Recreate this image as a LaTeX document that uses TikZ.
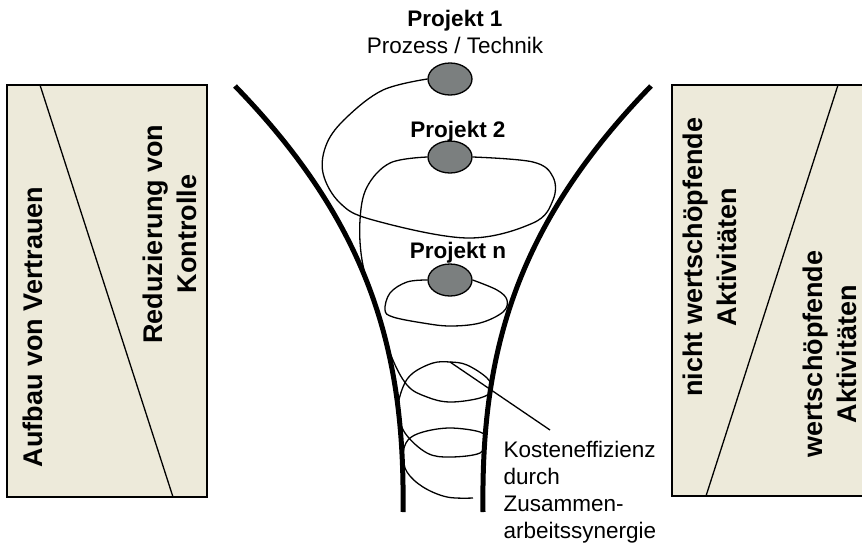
\documentclass[tikz,border=0pt]{standalone}
\usepackage{fontspec}
\setmainfont{Liberation Sans}
\usetikzlibrary{shapes.geometric}
\definecolor{paper}{RGB}{237,234,218}
\definecolor{stone}{RGB}{123,127,127}

\begin{document}
\begin{tikzpicture}[x=1pt, y=-1pt,
        panel/.style = {draw, line width=1.4pt, fill=paper},
        proj/.style = {draw, ellipse, line width=1.3pt, fill=stone, minimum width=44pt, minimum height=32pt, inner sep=0pt},
        wall/.style = {line width=5pt},
        spiral/.style = {line width=1.3pt},
        title/.style = {font=\fontsize{22.5}{27}\selectfont\bfseries, anchor=base},
        note/.style = {font=\fontsize{22.5}{27}\selectfont, anchor=base},
        side/.style = {font=\fontsize{27}{34}\selectfont\bfseries, rotate=90, align=center, anchor=base}]
        \useasboundingbox (0,0) rectangle (862,547);

        % left panel
        \draw[panel] (7,85) rectangle (207,497);
        \draw[spiral] (40,85) -- (173,497);
        \node[side] (trust) at (42,327) {Aufbau von Vertrauen};
        \node[side] (control) at (196,234) {Reduzierung von\\Kontrolle};

        % right panel
        \draw[panel] (672,85) rectangle (866,496);
        \draw[spiral] (838,85) -- (706,496);
        \node[side] (waste) at (736,257) {nicht wertschöpfende\\Aktivitäten};
        \node[side] (value) at (856,354) {wertschöpfende\\Aktivitäten};

        % funnel
        \draw[wall] (235,86) .. controls (375,230) and (405,360) .. (403,512);
        \draw[wall] (651,86) .. controls (511,230) and (481,360) .. (483,512);

        % projects
        \node[proj] (P1) at (450,79) {};
        \node[proj] (P2) at (450,157) {};
        \node[proj] (Pn) at (450,280) {};
        \node[title] (t1) at (455,26) {Projekt 1};
        \node[note] (t1b) at (455,53) {Prozess / Technik};
        \node[title] (t2) at (458,137) {Projekt 2};
        \node[title] (tn) at (458,258) {Projekt n};

        \draw[spiral] plot[smooth, tension=0.6] coordinates {(P1.west) (383,90) (347,117) (327,143) (323,173) (340,203) (373,220) (467,238) (533,223) (553,200) (553,177) (533,162) (P2.east)};
        \draw[spiral] plot[smooth, tension=0.6] coordinates {(Pn.west) (407,282) (390,293) (385,310) (393,317) (423,323) (450,326) (480,323) (503,312) (507,300) (497,290) (Pn.east)};
        \draw[spiral] plot[smooth, tension=0.6] coordinates {(P2.west) (390,163) (367,187) (360,220) (362,260) (373,300) (390,353) (407,385) (427,397) (450,402) (480,398) (492,390) (487,378) (467,365) (450,362) (433,363) (413,373) (403,387) (398,410) (405,433) (427,453) (450,457) (480,453) (486,440) (480,432) (450,428) (423,432) (408,440) (403,455) (407,472) (423,487) (447,497) (473,498)};

        % leader to the note
        \coordinate (loop) at (450,362);
        \coordinate (tip) at (550,430);
        \node[note, anchor=base west, align=left] (gain) at (500,538) {Kosteneffizienz\\durch\\Zusammen-\\arbeitssynergie};
        \draw[spiral] (loop) -- (tip);
\end{tikzpicture}
\end{document}
